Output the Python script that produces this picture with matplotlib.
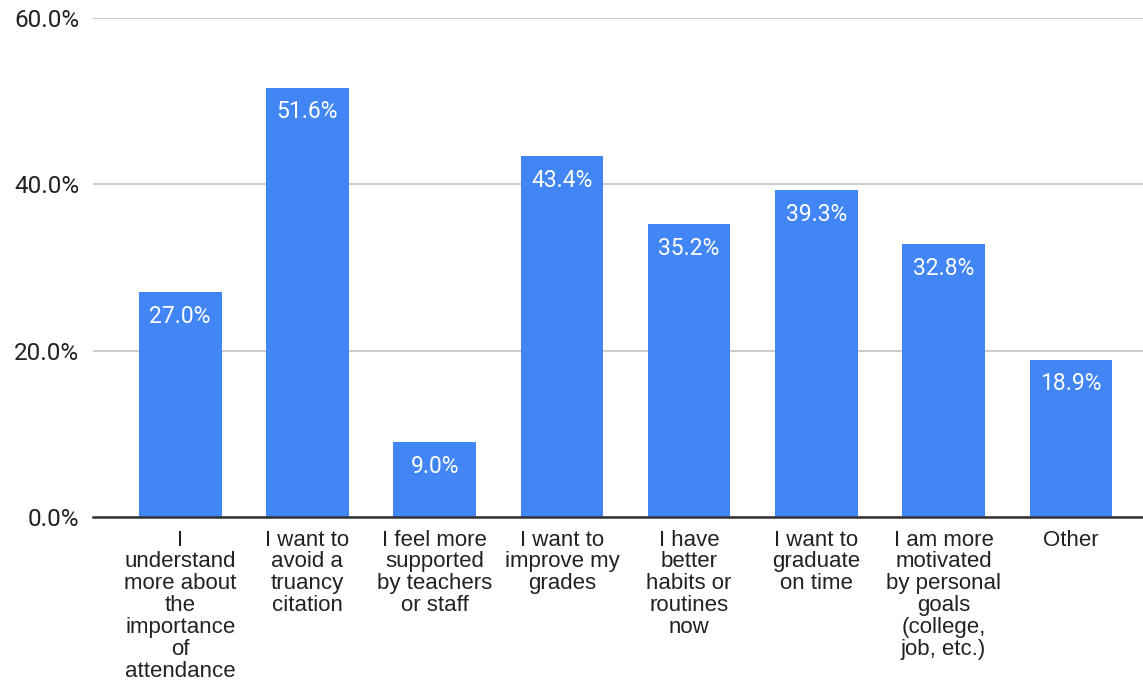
import matplotlib.pyplot as plt
import numpy as np

categories = [
    "I\nunderstand\nmore about\nthe\nimportance\nof\nattendance",
    "I want to\navoid a\ntruancy\ncitation",
    "I feel more\nsupported\nby teachers\nor staff",
    "I want to\nimprove my\ngrades",
    "I have\nbetter\nhabits or\nroutines\nnow",
    "I want to\ngraduate\non time",
    "I am more\nmotivated\nby personal\ngoals\n(college,\njob, etc.)",
    "Other",
]
values = [27.0, 51.6, 9.0, 43.4, 35.2, 39.3, 32.8, 18.9]
yticks = [0, 20, 40, 60]

plt.rcParams['font.family'] = ['Liberation Sans', 'DejaVu Sans']

fig = plt.figure(figsize=(11.43, 6.85), dpi=100)
ax = fig.add_axes([93/1143, 1-517/685, 1-93/1143, (517-18)/685])

x = np.arange(len(values))
bars = ax.bar(x, values, width=0.65, color='#4285F4', zorder=3)

for b, v in zip(bars, values):
    ax.text(b.get_x() + b.get_width()/2, v - 1.5, f"{v:.1f}%", ha='center', va='top',
            color='white', fontsize=16.5, family=['Roboto', 'DejaVu Sans'], zorder=4)

ax.set_ylim(0, 60)
ax.set_xlim(-0.685, 7.567)
ax.set_yticks(yticks)
ax.set_yticklabels([f"{t:.1f}%" for t in yticks], fontsize=17.5, color='#222222',
                   family=['Roboto', 'DejaVu Sans'])
ax.set_xticks(x)
ax.set_xticklabels(categories, fontsize=16, color='#222222', linespacing=1.06)
ax.tick_params(axis='both', length=0)
ax.tick_params(axis='x', pad=9)
ax.tick_params(axis='y', pad=10)

ax.grid(axis='y', color='#c8c8c8', linewidth=1.3, zorder=0)
for s in ['top', 'right', 'left']:
    ax.spines[s].set_visible(False)
ax.spines['bottom'].set_color('#333333')
ax.spines['bottom'].set_linewidth(1.8)
ax.spines['bottom'].set_zorder(5)

fig.savefig('out.png', dpi=100)
